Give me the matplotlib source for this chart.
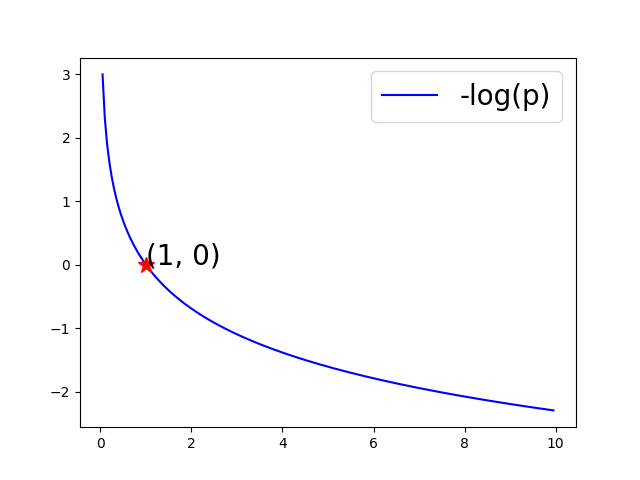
import numpy as np
import matplotlib
matplotlib.use('Agg')
import matplotlib.pyplot as plt

# x grid for the curve and the marked point
p = np.arange(0.05, 10, 0.05)
point_x = [1]
point_y = [0]
point_label = '(1, 0)'

plt.figure(figsize=(6.4, 4.8), dpi=100)
plt.plot(p, -np.log(p), color='blue', label='-log(p)')
plt.plot(point_x, point_y, marker='*', color='red', markersize=12, linestyle='none')
plt.text(point_x[0], point_y[0], point_label, fontsize=20)
plt.legend(fontsize=20, loc='upper right')
plt.savefig('out.png', dpi=100)
